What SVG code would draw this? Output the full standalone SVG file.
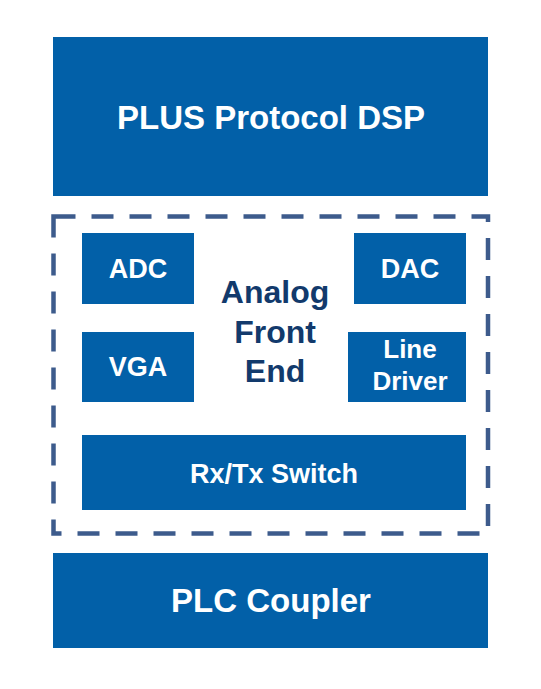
<svg xmlns="http://www.w3.org/2000/svg" width="541" height="689" viewBox="0 0 541 689">
<style>
.box{fill:#0260a8}
.t{font-family:"Liberation Sans",Arial,sans-serif;font-weight:bold;fill:#ffffff;text-anchor:middle}
.afe{font-family:"Liberation Sans",Arial,sans-serif;font-weight:bold;fill:#123a6c;text-anchor:middle;font-size:32px}
</style>
<rect width="541" height="689" fill="#ffffff"/>
<g id="dsp"><rect class="box" x="53" y="37" width="435" height="159"/><text class="t" x="271" y="129" font-size="33">PLUS Protocol DSP</text></g>
<g id="afe">
<rect x="53.5" y="216.5" width="434.5" height="317" fill="none" stroke="#3d5b8c" stroke-width="4.5" stroke-dasharray="22 16"/>
<text class="afe" x="275" y="303">Analog</text>
<text class="afe" x="275" y="343">Front</text>
<text class="afe" x="275" y="382">End</text>
</g>
<g id="adc"><rect class="box" x="82" y="233" width="112" height="71"/><text class="t" x="138" y="278" font-size="27">ADC</text></g>
<g id="dac"><rect class="box" x="354" y="233" width="112" height="71"/><text class="t" x="410" y="278" font-size="27">DAC</text></g>
<g id="vga"><rect class="box" x="82" y="332" width="112" height="70"/><text class="t" x="138" y="376" font-size="27">VGA</text></g>
<g id="ld"><rect class="box" x="348" y="332" width="118" height="70"/><text class="t" x="410" y="358" font-size="26">Line</text><text class="t" x="410" y="390" font-size="26">Driver</text></g>
<g id="rxtx"><rect class="box" x="82" y="435" width="384" height="75"/><text class="t" x="274" y="483" font-size="27">Rx/Tx Switch</text></g>
<g id="plc"><rect class="box" x="53" y="553" width="435" height="95"/><text class="t" x="271" y="612" font-size="33">PLC Coupler</text></g>
<g id="connectors"></g>
</svg>
